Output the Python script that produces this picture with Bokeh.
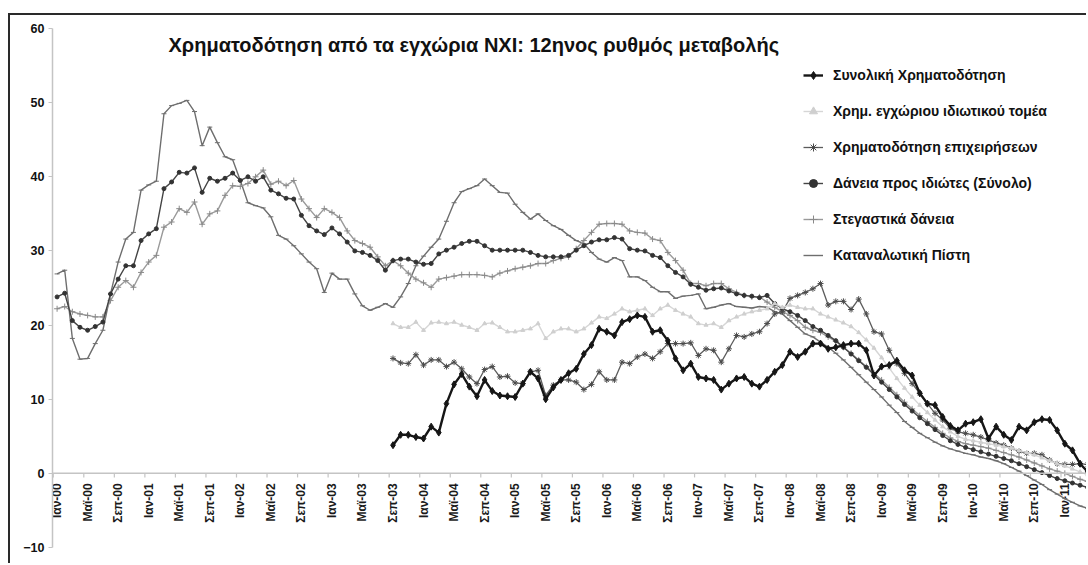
import numpy as np
from bokeh.plotting import figure
from bokeh.models import (Legend, LegendItem, Label, Span, FixedTicker, Range1d)
from bokeh.core.properties import value
from bokeh.embed import file_html
from bokeh.resources import INLINE

# ---------------- data (monthly, Jan-00 .. Apr-11) ----------------
tick_labels = ["Ιαν-00", "Μαϊ-00", "Σεπ-00", "Ιαν-01", "Μαϊ-01", "Σεπ-01",
               "Ιαν-02", "Μαϊ-02", "Σεπ-02", "Ιαν-03", "Μαϊ-03", "Σεπ-03",
               "Ιαν-04", "Μαϊ-04", "Σεπ-04", "Ιαν-05", "Μαϊ-05", "Σεπ-05",
               "Ιαν-06", "Μαϊ-06", "Σεπ-06", "Ιαν-07", "Μαϊ-07", "Σεπ-07",
               "Ιαν-08", "Μαϊ-08", "Σεπ-08", "Ιαν-09", "Μαϊ-09", "Σεπ-09",
               "Ιαν-10", "Μαϊ-10", "Σεπ-10", "Ιαν-11"]
tick_step = 4          # one label every 4 months
late_start = 44        # Sep-03: first month of the three shorter series
y_ticks = [-10, 0, 10, 20, 30, 40, 50, 60]

total_financing = [  # Συνολική Χρηματοδότηση (from Sep-03)
    3.8, 5.2, 5.2, 4.9, 4.7, 6.3,
    5.5, 9.4, 12.0, 13.4, 11.7, 10.4, 12.6, 11.1, 10.5, 10.4,
    10.3, 12.1, 13.7, 12.8, 10.0, 11.6, 12.6, 13.5, 14.1, 16.1,
    17.3, 19.5, 19.1, 18.6, 20.4, 20.8, 21.3, 21.1, 19.1, 19.3,
    17.9, 15.5, 13.9, 14.8, 13.0, 12.8, 12.6, 11.3, 12.1, 12.8,
    13.0, 12.1, 11.7, 12.6, 13.7, 14.6, 16.4, 15.7, 16.4, 17.5,
    17.5, 16.8, 17.0, 17.3, 17.5, 17.5, 16.6, 13.2, 14.4, 14.6,
    15.2, 13.9, 13.2, 10.8, 9.4, 9.2, 7.6, 6.4, 5.8, 6.7,
    6.9, 7.3, 4.7, 6.3, 5.2, 4.5, 6.3, 5.8, 6.9, 7.3,
    7.2, 5.8, 4.0, 3.1, 1.3, 0.2]

private_sector = [  # Χρημ. εγχώριου ιδιωτικού τομέα (from Sep-03)
    20.2, 19.7, 19.7, 20.4, 19.3, 20.3,
    20.4, 20.2, 20.4, 20.0, 19.7, 19.3, 20.2, 20.3, 19.7, 19.1,
    19.1, 19.3, 19.5, 20.2, 18.2, 19.1, 19.5, 19.5, 19.1, 19.5,
    20.3, 21.1, 20.9, 21.5, 22.2, 21.8, 22.0, 22.2, 21.3, 22.2,
    22.7, 22.0, 21.5, 21.1, 20.2, 20.0, 20.2, 19.7, 20.6, 21.1,
    21.5, 21.8, 22.0, 22.2, 22.9, 22.4, 22.7, 22.4, 22.2, 22.2,
    21.5, 21.1, 20.7, 20.3, 19.8, 19.0, 18.0, 16.9, 15.6, 14.2,
    12.8, 11.5, 10.3, 9.2, 8.2, 7.2, 6.3, 5.6, 5.0, 4.6,
    4.4, 4.2, 4.0, 3.8, 3.6, 3.4, 3.1, 2.8, 2.5, 2.1,
    1.7, 1.3, 1.0, 0.6, 0.2, -0.2]

business = [  # Χρηματοδότηση επιχειρήσεων (from Sep-03)
    15.5, 14.9, 14.8, 16.0, 14.6, 15.3,
    15.3, 14.4, 15.0, 14.1, 13.0, 12.1, 14.0, 14.4, 13.0, 13.1,
    12.2, 12.1, 13.7, 13.9, 10.5, 11.9, 12.6, 12.6, 12.3, 11.3,
    12.0, 13.7, 12.6, 12.6, 15.0, 14.8, 15.7, 16.1, 15.5, 16.4,
    17.5, 17.5, 17.5, 17.6, 15.9, 16.8, 16.6, 15.0, 16.8, 18.6,
    18.4, 18.8, 19.1, 20.2, 21.5, 21.8, 23.6, 24.0, 24.4, 24.9,
    25.6, 22.7, 23.2, 23.2, 22.1, 23.5, 21.5, 19.1, 18.8, 16.6,
    14.8, 13.5, 12.1, 10.8, 9.4, 8.1, 7.2, 6.1, 5.6, 5.4,
    5.2, 4.9, 4.5, 4.1, 3.8, 3.4, 3.0, 2.7, 2.7, 2.5,
    1.8, 1.3, 1.2, 1.2, 1.3, 1.2]

households = [  # Δάνεια προς ιδιώτες (Σύνολο) (from Jan-00)
    23.8, 24.3, 20.6, 19.7, 19.3, 19.8, 20.4, 24.2, 26.2, 28.0,
    28.0, 31.4, 32.3, 33.0, 38.4, 39.3, 40.6, 40.5, 41.2, 37.9,
    39.8, 39.4, 39.8, 40.5, 39.5, 40.0, 39.4, 40.0, 38.2, 37.7,
    37.1, 37.0, 34.8, 33.4, 32.7, 32.2, 33.1, 32.3, 31.2, 30.0,
    29.8, 29.4, 28.7, 27.4, 28.7, 28.9, 28.9, 28.5, 28.2, 28.3,
    29.6, 30.1, 30.5, 31.0, 31.3, 31.3, 30.7, 30.1, 30.1, 30.1,
    30.1, 30.1, 29.8, 29.4, 29.2, 29.2, 29.2, 29.4, 30.1, 30.7,
    31.2, 31.5, 31.5, 31.8, 31.6, 30.3, 30.1, 30.0, 29.4, 29.1,
    28.0, 27.1, 26.5, 25.5, 25.1, 24.7, 24.9, 25.0, 24.6, 24.2,
    24.0, 23.9, 23.7, 24.0, 22.9, 22.2, 21.8, 21.3, 20.6, 19.8,
    19.3, 18.6, 17.9, 17.0, 16.1, 15.2, 14.3, 13.3, 12.3, 11.3,
    10.3, 9.3, 8.4, 7.5, 6.7, 5.9, 5.1, 4.4, 3.9, 3.5,
    3.2, 2.9, 2.6, 2.3, 2.0, 1.7, 1.3, 0.9, 0.5, 0.1,
    -0.3, -0.7, -1.0, -1.3, -1.6, -1.9]

housing = [  # Στεγαστικά δάνεια (from Jan-00)
    22.2, 22.5, 21.8, 21.5, 21.3, 21.1, 21.1, 23.3, 25.1, 26.0,
    25.1, 27.1, 28.5, 29.4, 33.2, 33.9, 35.7, 35.2, 36.6, 33.6,
    35.0, 35.4, 37.5, 38.8, 38.7, 39.1, 40.0, 40.9, 39.0, 39.4,
    38.8, 39.5, 37.0, 35.7, 34.5, 35.7, 35.2, 34.5, 32.7, 31.4,
    31.0, 30.5, 29.2, 28.0, 28.7, 28.0, 27.0, 26.2, 25.7, 25.1,
    26.2, 26.4, 26.6, 26.8, 26.8, 26.8, 26.7, 26.5, 27.0, 27.3,
    27.6, 27.8, 28.0, 28.3, 28.3, 28.7, 29.0, 29.2, 30.3, 31.4,
    32.5, 33.6, 33.7, 33.7, 33.6, 32.7, 32.5, 32.4, 31.6, 31.4,
    29.8, 28.7, 27.4, 25.6, 25.6, 25.3, 25.6, 25.6, 24.9, 24.4,
    24.0, 23.8, 23.8, 23.1, 22.4, 21.8, 21.3, 20.6, 19.7, 19.3,
    19.0, 18.4, 17.8, 17.0, 16.2, 15.3, 14.4, 13.5, 12.6, 11.6,
    10.6, 9.6, 8.7, 7.8, 7.0, 6.2, 5.4, 4.8, 4.3, 4.0,
    3.8, 3.6, 3.4, 3.1, 2.8, 2.5, 2.2, 1.8, 1.4, 1.0,
    0.6, 0.3, 0.0, -0.4, -0.8, -1.1]

consumer = [  # Καταναλωτική Πίστη (from Jan-00)
    26.9, 27.4, 18.2, 15.4, 15.5, 17.5, 19.3, 24.2, 28.5, 31.6,
    32.5, 38.2, 38.9, 39.4, 48.5, 49.6, 49.9, 50.3, 48.8, 44.2,
    46.7, 44.6, 42.7, 42.3, 39.5, 36.5, 36.1, 35.8, 34.6, 32.1,
    31.6, 30.7, 29.6, 28.5, 27.6, 24.4, 27.0, 26.2, 26.2, 24.2,
    22.6, 22.0, 22.4, 22.9, 22.4, 23.8, 25.6, 28.0, 29.3, 30.5,
    31.6, 34.0, 36.5, 38.0, 38.4, 38.8, 39.7, 38.8, 37.9, 37.8,
    36.3, 35.2, 34.3, 35.0, 34.1, 33.4, 32.9, 32.1, 31.4, 31.0,
    29.8, 28.9, 28.5, 29.1, 28.7, 26.5, 26.5, 26.0, 25.1, 24.5,
    24.5, 23.6, 23.9, 24.0, 24.2, 22.2, 22.4, 22.7, 22.9, 22.5,
    22.4, 22.3, 22.5, 22.4, 21.8, 21.5, 20.6, 19.7, 18.8, 18.4,
    17.7, 17.0, 16.2, 15.3, 14.3, 13.3, 12.3, 11.3, 10.3, 9.2,
    8.2, 7.0, 6.2, 5.4, 4.8, 4.2, 3.7, 3.3, 3.0, 2.7,
    2.5, 2.2, 2.0, 1.7, 1.3, 0.8, 0.3, -0.3, -0.9, -1.5,
    -2.2, -2.8, -3.4, -3.9, -4.4, -4.7]

series_names = ["Συνολική Χρηματοδότηση",
                "Χρημ. εγχώριου ιδιωτικού τομέα",
                "Χρηματοδότηση επιχειρήσεων",
                "Δάνεια προς ιδιώτες (Σύνολο)",
                "Στεγαστικά δάνεια",
                "Καταναλωτική Πίστη"]
title_text = "Χρηματοδότηση από τα εγχώρια ΝΧΙ: 12ηνος ρυθμός μεταβολής"

# ---------------- figure ----------------
FONT = "Liberation Sans"
p = figure(width=1078, height=550, output_backend="svg", toolbar_location=None,
           x_axis_location=None, x_range=Range1d(-0.6, 135.1),
           y_range=Range1d(-10, 60),
           min_border_left=42, min_border_right=0, min_border_top=13,
           min_border_bottom=18,
           styles={"margin-left": "8px", "margin-top": "13px",
                   "border-left": "2px solid #2a2a2a",
                   "border-top": "2px solid #2a2a2a"})
p.outline_line_color = None
p.grid.visible = False
p.background_fill_color = "white"
p.border_fill_color = "white"

ya = p.yaxis[0]
ya.ticker = FixedTicker(ticks=y_ticks)
ya.axis_line_color = "#c4c4c4"
ya.axis_line_width = 1.5
ya.major_tick_line_color = "#c4c4c4"
ya.major_tick_out = 4
ya.major_tick_in = 0
ya.minor_tick_out = 0
ya.minor_tick_in = 0
ya.major_label_standoff = 4
ya.major_label_text_font = FONT
ya.major_label_text_font_style = "bold"
ya.major_label_text_font_size = "12.5px"
ya.major_label_text_color = "#111111"

# category axis drawn at y = 0
p.add_layout(Span(location=0, dimension="width", line_color="#c4c4c4",
                  line_width=1.5))
label_x = [i * tick_step for i in range(len(tick_labels))]
tick_x = [x - 0.5 for x in label_x] + [label_x[-1] + tick_step - 0.5]
p.segment(x0=tick_x, x1=tick_x, y0=[0] * len(tick_x), y1=[-0.55] * len(tick_x),
          line_color="#c4c4c4", line_width=1.2)
p.text(x=label_x, y=[0] * len(label_x), text=tick_labels, angle=np.pi / 2,
       text_align="right", text_baseline="middle", y_offset=10,
       text_font=value(FONT), text_font_style="bold", text_font_size="12px",
       text_color="#1a1a1a")

def xs(values, start):
    return list(range(start, start + len(values)))

styles = [
    # values, start, line color, width, marker, marker size, marker color
    (consumer, 0, "#6e6e6e", 1.4, "dash", 5, "#6e6e6e"),
    (housing, 0, "#9a9a9a", 1.4, "cross", 6, "#8a8a8a"),
    (households, 0, "#454545", 1.4, "circle", 4, "#333333"),
    (business, late_start, "#5c5c5c", 1.3, "asterisk", 6, "#4a4a4a"),
    (private_sector, late_start, "#d6d6d6", 1.4, "triangle", 4, "#cfcfcf"),
    (total_financing, late_start, "#161616", 2.4, "diamond", 7, "#161616"),
]
legend_order = [5, 4, 3, 2, 1, 0]
renderers = []
for vals, start, col, lw, mk, ms, mc in styles:
    xx = xs(vals, start)
    lr = p.line(xx, vals, line_color=col, line_width=lw, line_join="round")
    sr = p.scatter(xx, vals, marker=mk, size=ms, line_color=mc, fill_color=mc,
                   line_width=1)
    renderers.append([lr, sr])

items = [LegendItem(label=series_names[k], renderers=renderers[idx])
         for k, idx in enumerate(legend_order)]
legend = Legend(items=items, location=(751, 282), padding=0, margin=0,
                spacing=16, glyph_width=20, glyph_height=20, label_height=20,
                label_standoff=10, background_fill_alpha=0,
                border_line_alpha=0, label_text_font=FONT,
                label_text_font_style="bold", label_text_font_size="14px",
                label_text_color="#111111")
p.add_layout(legend)

p.add_layout(Label(x=116, y=503, x_units="screen", y_units="screen",
                   text=title_text, text_font=FONT, text_font_style="bold",
                   text_font_size="20px", text_baseline="middle",
                   text_color="#111111"))

open("out.html", "w").write(file_html(p, INLINE))
